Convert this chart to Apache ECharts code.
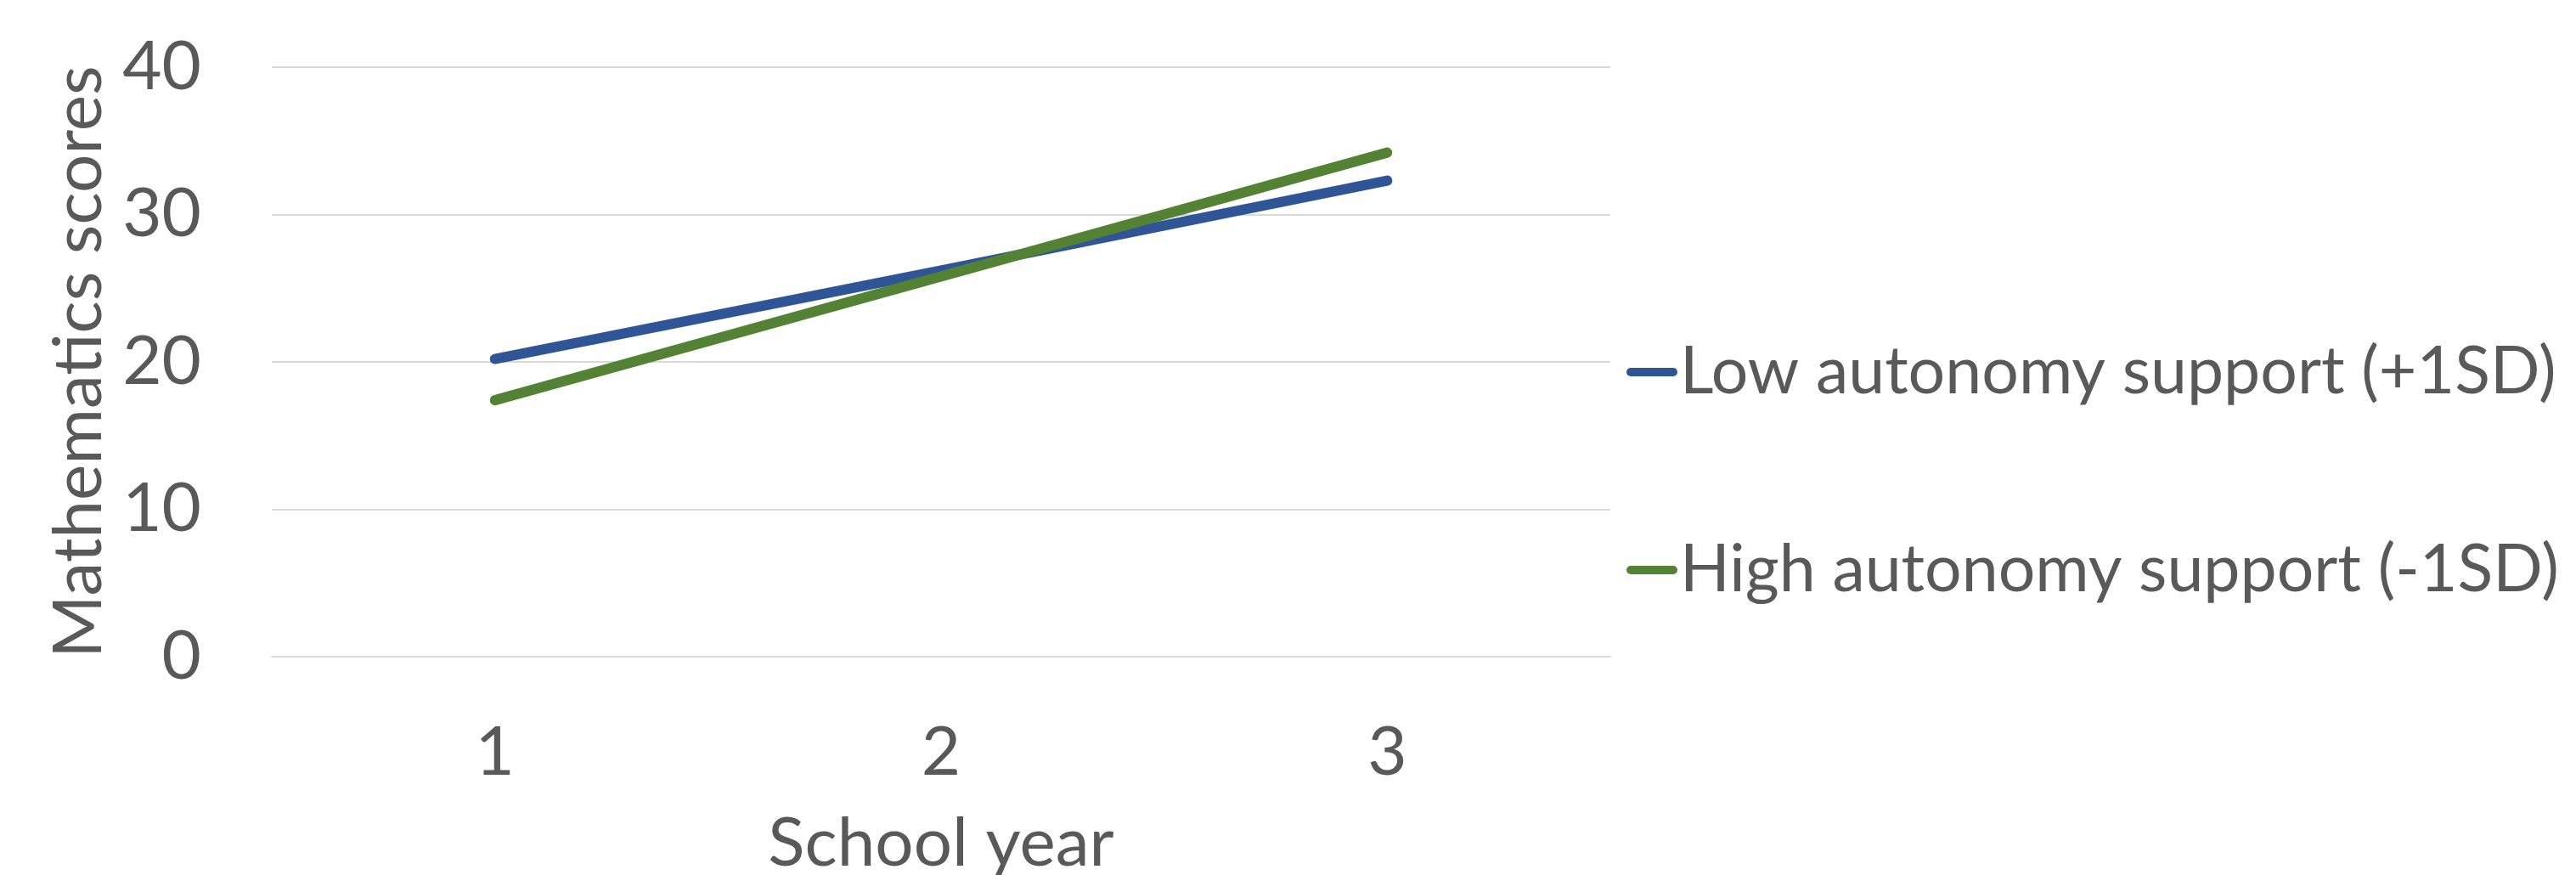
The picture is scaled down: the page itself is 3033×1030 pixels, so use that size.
<!DOCTYPE html>
<html>
<head>
<meta charset="utf-8">
<script src="https://cdn.jsdelivr.net/npm/echarts@6/dist/echarts.min.js"></script>
<style>
  html, body { margin: 0; padding: 0; background: #ffffff; }
  #chart { width: 3033px; height: 1030px; }
</style>
</head>
<body>
<div id="chart"></div>
<script>
// School years on the category axis
const schoolYears = ['1', '2', '3'];

// Simple slopes of mathematics scores
const lowSupport = [20.2, 26.2, 32.3];
const highSupport = [17.4, 25.8, 34.2];

const seriesNames = ['Low autonomy support (+1SD)', 'High autonomy support (-1SD)'];

// Value axis ticks
const yMin = 0, yMax = 40, yStep = 10;

const FONT = 'Lato';
const TEXT = '#595959';
const GRID = '#D9D9D9';
const BLUE = '#2F5597';
const GREEN = '#548235';

const chart = echarts.init(document.getElementById('chart'), null, { renderer: 'canvas' });

const capsule = 'path://M5,0 L55,0 A5,5 0 0 1 55,10 L5,10 A5,5 0 0 1 5,0 Z';

chart.setOption({
  backgroundColor: '#ffffff',
  animation: false,
  textStyle: { fontFamily: FONT, color: TEXT },
  grid: {
    left: 320, right: 3033 - 1896, top: 79, bottom: 1030 - 773,
    containLabel: false,
    outerBoundsMode: 'none'
  },
  legend: {
    orient: 'vertical',
    left: 1910,
    top: 383,
    itemWidth: 60,
    itemHeight: 11,
    itemGap: 133,
    textStyle: { fontFamily: FONT, fontSize: 77, color: TEXT, lineHeight: 100, padding: [0, 0, 0, -2] },
    data: [
      { name: seriesNames[0], icon: capsule, itemStyle: { color: BLUE } },
      { name: seriesNames[1], icon: capsule, itemStyle: { color: GREEN } }
    ]
  },
  xAxis: {
    type: 'category',
    data: schoolYears,
    boundaryGap: true,
    name: 'School year',
    nameLocation: 'middle',
    nameGap: 180,
    nameTextStyle: { fontFamily: FONT, fontSize: 80, color: TEXT },
    axisLine: { show: true, lineStyle: { color: GRID, width: 2 } },
    axisTick: { show: false },
    axisLabel: { fontFamily: FONT, fontSize: 80, color: TEXT, margin: 73 }
  },
  yAxis: {
    type: 'value',
    min: yMin,
    max: yMax,
    interval: yStep,
    name: 'Mathematics scores',
    nameLocation: 'middle',
    nameRotate: 90,
    nameGap: 181,
    nameTextStyle: { fontFamily: FONT, fontSize: 80, color: TEXT },
    axisLine: { show: false },
    axisTick: { show: false },
    axisLabel: { fontFamily: FONT, fontSize: 80, color: TEXT, margin: 83 },
    splitLine: { show: true, lineStyle: { color: GRID, width: 2 } }
  },
  series: [
    {
      name: seriesNames[0],
      type: 'line',
      data: lowSupport,
      symbol: 'none',
      color: BLUE,
      lineStyle: { color: BLUE, width: 12, cap: 'round', join: 'round' }
    },
    {
      name: seriesNames[1],
      type: 'line',
      data: highSupport,
      symbol: 'none',
      color: GREEN,
      lineStyle: { color: GREEN, width: 12, cap: 'round', join: 'round' }
    }
  ]
});
</script>
</body>
</html>
